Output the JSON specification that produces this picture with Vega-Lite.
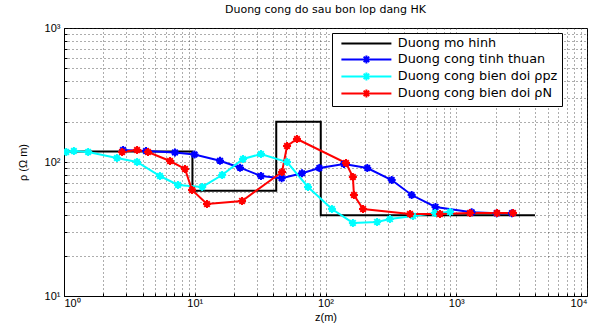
{
  "$schema": "https://vega.github.io/schema/vega-lite/v6.json",
  "autosize": {"type": "none"},
  "padding": {"left": 64, "top": 28, "right": 5, "bottom": 33},
  "width": 523,
  "height": 268,
  "background": "white",
  "config": {
    "view": {"stroke": "black", "strokeWidth": 1},
    "font": "Liberation Sans",
    "axis": {
      "labelFont": "Liberation Sans",
      "titleFont": "Liberation Sans",
      "labelColor": "black",
      "titleColor": "black",
      "domainColor": "black",
      "tickColor": "black",
      "labelFontSize": 11,
      "titleFontSize": 11,
      "titleFontWeight": "normal",
      "gridColor": "#333",
      "gridDash": [1, 3],
      "gridOpacity": 0.8,
      "labelOverlap": false,
      "labelBound": false
    }
  },
  "title": {
    "text": "Duong cong do sau bon lop dang HK",
    "font": "DejaVu Sans",
    "fontSize": 11,
    "fontWeight": "normal",
    "color": "black",
    "offset": 7
  },
  "data": {
    "values": [
      {"s": "Duong mo hinh", "i": 1, "z": 1, "rho": 120},
      {"s": "Duong mo hinh", "i": 2, "z": 9.6, "rho": 120},
      {"s": "Duong mo hinh", "i": 3, "z": 9.6, "rho": 61},
      {"s": "Duong mo hinh", "i": 4, "z": 42, "rho": 61},
      {"s": "Duong mo hinh", "i": 5, "z": 42, "rho": 200},
      {"s": "Duong mo hinh", "i": 6, "z": 92, "rho": 200},
      {"s": "Duong mo hinh", "i": 7, "z": 92, "rho": 40},
      {"s": "Duong mo hinh", "i": 8, "z": 4000, "rho": 40},

      {"s": "Duong cong tinh thuan", "i": 1, "z": 2.83, "rho": 122.9},
      {"s": "Duong cong tinh thuan", "i": 2, "z": 4.24, "rho": 120.8},
      {"s": "Duong cong tinh thuan", "i": 3, "z": 7.06, "rho": 117.8},
      {"s": "Duong cong tinh thuan", "i": 4, "z": 9.96, "rho": 113.8},
      {"s": "Duong cong tinh thuan", "i": 5, "z": 15.6, "rho": 102.2},
      {"s": "Duong cong tinh thuan", "i": 6, "z": 22.2, "rho": 90.7},
      {"s": "Duong cong tinh thuan", "i": 7, "z": 32.1, "rho": 78.6},
      {"s": "Duong cong tinh thuan", "i": 8, "z": 46.2, "rho": 75.6},
      {"s": "Duong cong tinh thuan", "i": 9, "z": 66.1, "rho": 82.4},
      {"s": "Duong cong tinh thuan", "i": 10, "z": 89.7, "rho": 90.2},
      {"s": "Duong cong tinh thuan", "i": 11, "z": 138.5, "rho": 96.6},
      {"s": "Duong cong tinh thuan", "i": 12, "z": 208.8, "rho": 90.2},
      {"s": "Duong cong tinh thuan", "i": 13, "z": 320.9, "rho": 73.4},
      {"s": "Duong cong tinh thuan", "i": 14, "z": 456, "rho": 56.7},
      {"s": "Duong cong tinh thuan", "i": 15, "z": 694, "rho": 46.2},
      {"s": "Duong cong tinh thuan", "i": 16, "z": 1312, "rho": 42.1},
      {"s": "Duong cong tinh thuan", "i": 17, "z": 2038, "rho": 41.5},
      {"s": "Duong cong tinh thuan", "i": 18, "z": 2667, "rho": 41.5},

      {"s": "Duong cong bien doi ρpz", "i": 1, "z": 1.04, "rho": 118.8},
      {"s": "Duong cong bien doi ρpz", "i": 2, "z": 1.19, "rho": 120.8},
      {"s": "Duong cong bien doi ρpz", "i": 3, "z": 1.53, "rho": 118.8},
      {"s": "Duong cong bien doi ρpz", "i": 4, "z": 2.54, "rho": 107.1},
      {"s": "Duong cong bien doi ρpz", "i": 5, "z": 3.62, "rho": 100},
      {"s": "Duong cong bien doi ρpz", "i": 6, "z": 5.42, "rho": 78.6},
      {"s": "Duong cong bien doi ρpz", "i": 7, "z": 7.44, "rho": 67.4},
      {"s": "Duong cong bien doi ρpz", "i": 8, "z": 11.4, "rho": 65.1},
      {"s": "Duong cong bien doi ρpz", "i": 9, "z": 16.2, "rho": 80},
      {"s": "Duong cong bien doi ρpz", "i": 10, "z": 23.4, "rho": 105.3},
      {"s": "Duong cong bien doi ρpz", "i": 11, "z": 32.1, "rho": 114.7},
      {"s": "Duong cong bien doi ρpz", "i": 12, "z": 50.8, "rho": 100},
      {"s": "Duong cong bien doi ρpz", "i": 13, "z": 73.5, "rho": 65.1},
      {"s": "Duong cong bien doi ρpz", "i": 14, "z": 112, "rho": 44.6},
      {"s": "Duong cong bien doi ρpz", "i": 15, "z": 162, "rho": 35.1},
      {"s": "Duong cong bien doi ρpz", "i": 16, "z": 248, "rho": 35.7},
      {"s": "Duong cong bien doi ρpz", "i": 17, "z": 311, "rho": 37.5},
      {"s": "Duong cong bien doi ρpz", "i": 18, "z": 467, "rho": 39.5},
      {"s": "Duong cong bien doi ρpz", "i": 19, "z": 688, "rho": 41.6},
      {"s": "Duong cong bien doi ρpz", "i": 20, "z": 896, "rho": 42.3},

      {"s": "Duong cong bien doi ρN", "i": 1, "z": 2.78, "rho": 118.8},
      {"s": "Duong cong bien doi ρN", "i": 2, "z": 3.62, "rho": 122.9},
      {"s": "Duong cong bien doi ρN", "i": 3, "z": 4.39, "rho": 118.8},
      {"s": "Duong cong bien doi ρN", "i": 4, "z": 6.47, "rho": 101.7},
      {"s": "Duong cong bien doi ρN", "i": 5, "z": 8.42, "rho": 88.7},
      {"s": "Duong cong bien doi ρN", "i": 6, "z": 9.53, "rho": 61.8},
      {"s": "Duong cong bien doi ρN", "i": 7, "z": 12.4, "rho": 48.6},
      {"s": "Duong cong bien doi ρN", "i": 8, "z": 23.0, "rho": 51.2},
      {"s": "Duong cong bien doi ρN", "i": 9, "z": 46.5, "rho": 84.2},
      {"s": "Duong cong bien doi ρN", "i": 10, "z": 50.8, "rho": 131.6},
      {"s": "Duong cong bien doi ρN", "i": 11, "z": 60.5, "rho": 148.5},
      {"s": "Duong cong bien doi ρN", "i": 12, "z": 143.5, "rho": 98.3},
      {"s": "Duong cong bien doi ρN", "i": 13, "z": 162, "rho": 77.3},
      {"s": "Duong cong bien doi ρN", "i": 14, "z": 165, "rho": 56.7},
      {"s": "Duong cong bien doi ρN", "i": 15, "z": 193.6, "rho": 44.6},
      {"s": "Duong cong bien doi ρN", "i": 16, "z": 443, "rho": 40.9},
      {"s": "Duong cong bien doi ρN", "i": 17, "z": 751, "rho": 40.9},
      {"s": "Duong cong bien doi ρN", "i": 18, "z": 1274, "rho": 41.6},
      {"s": "Duong cong bien doi ρN", "i": 19, "z": 2050, "rho": 41.6},
      {"s": "Duong cong bien doi ρN", "i": 20, "z": 2717, "rho": 41.6}
    ]
  },
  "encoding": {
    "x": {
      "field": "z", "type": "quantitative",
      "scale": {"type": "log", "domain": [1, 10000], "nice": false},
      "axis": {
        "title": "z(m)",
        "titlePadding": 3,
        "values": [1,2,3,4,5,6,7,8,9,10,20,30,40,50,60,70,80,90,100,200,300,400,500,600,700,800,900,1000,2000,3000,4000,5000,6000,7000,8000,9000,10000],
        "labelExpr": "indexof([1,10,100,1000,10000], datum.value) >= 0 ? '10' + ['⁰','¹','²','³','⁴'][indexof([1,10,100,1000,10000], datum.value)] : ''",
        "grid": true,
        "tickSize": -3,
        "labelPadding": 4
      }
    },
    "y": {
      "field": "rho", "type": "quantitative",
      "scale": {"type": "log", "domain": [10, 1000], "nice": false},
      "axis": {
        "title": "ρ (Ω m)",
        "titlePadding": 16,
        "values": [10,20,30,40,50,60,70,80,90,100,200,300,400,500,600,700,800,900,1000],
        "labelExpr": "indexof([10,100,1000], datum.value) >= 0 ? '10' + ['¹','²','³'][indexof([10,100,1000], datum.value)] : ''",
        "grid": true,
        "tickSize": -3,
        "labelPadding": 7
      }
    },
    "color": {
      "field": "s", "type": "nominal",
      "scale": {
        "domain": ["Duong mo hinh", "Duong cong tinh thuan", "Duong cong bien doi ρpz", "Duong cong bien doi ρN"],
        "range": ["#000000", "#0000ff", "#00ffff", "#ff0000"]
      },
      "legend": {
        "title": null,
        "orient": "none",
        "legendX": 268,
        "legendY": 5,
        "fillColor": "white",
        "strokeColor": "black",
        "padding": 4,
        "labelFont": "DejaVu Sans",
        "labelFontSize": 12.8,
        "labelColor": "black",
        "symbolSize": 100,
        "symbolStrokeWidth": 2,
        "symbolOpacity": 1,
        "rowPadding": 0,
        "labelOffset": 49,
        "labelLimit": 300,
        "encode": {
          "symbols": {
            "update": {
              "shape": {"signal": "datum.value === 'Duong mo hinh' ? 'M-0.2,0H9.8' : 'M-0.2,0H9.8M4,0H5.6M4.8,-0.8V0.8M4.25,-0.55L5.35,0.55M4.25,0.55L5.35,-0.55'"},
              "fill": {"value": "transparent"}
            }
          }
        }
      }
    }
  },
  "layer": [
    {
      "transform": [{"filter": "datum.s === 'Duong mo hinh'"}],
      "mark": {"type": "line", "strokeWidth": 2, "clip": true},
      "encoding": {"order": {"field": "i", "type": "quantitative"}}
    },
    {
      "transform": [{"filter": "datum.s !== 'Duong mo hinh'"}],
      "mark": {"type": "line", "strokeWidth": 2, "clip": true},
      "encoding": {"order": {"field": "i", "type": "quantitative"}}
    },
    {
      "transform": [{"filter": "datum.s !== 'Duong mo hinh'"}],
      "mark": {"type": "point", "filled": false, "strokeWidth": 2, "size": 64, "opacity": 1, "shape": "M-1,0H1M0,-1V1M-0.7,-0.7L0.7,0.7M-0.7,0.7L0.7,-0.7", "clip": true}
    }
  ]
}
